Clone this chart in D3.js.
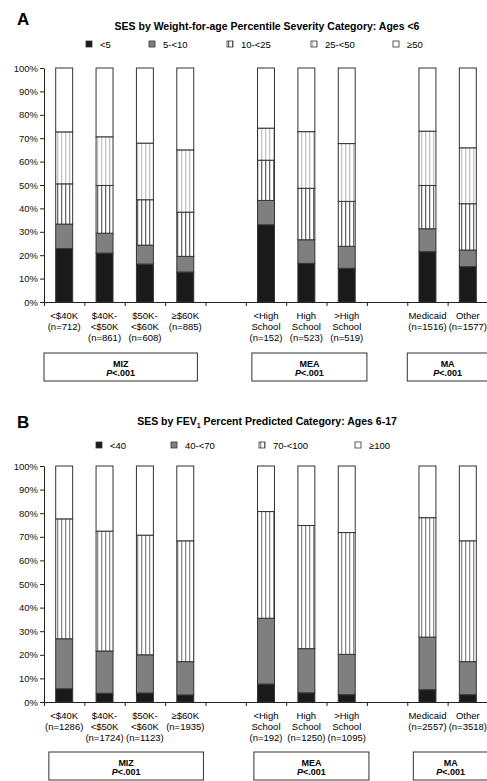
<!DOCTYPE html>
<html>
<head>
<meta charset="utf-8">
<script src="https://cdn.jsdelivr.net/npm/d3@7"></script>
<style>
  body { margin: 0; background: #fff; }
  svg { font-family: Arial, "Liberation Sans", Helvetica, sans-serif; }
  .axis path, .axis line { stroke: #222; }
  .axis text { font-size: 9.5px; fill: #111; }
</style>
</head>
<body>
<div id="chart"></div>
<script>
// DATA

// slots on the x axis, "" = empty gap between groups
var slots = ["<$40K", "$40K-<$50K", "$50K-<$60K", ">=$60K", "", "<HS", "HS", ">HS", "", "Medicaid", "Other"];
var barSlots = [0, 1, 2, 3, 5, 6, 7, 9, 10];

var labelsA = [["<$40K", "(n=712)"], ["$40K-", "<$50K", "(n=861)"], ["$50K-", "<$60K", "(n=608)"], ["≥$60K", "(n=885)"],
    ["<High", "School", "(n=152)"], ["High", "School", "(n=523)"], [">High", "School", "(n=519)"],
    ["Medicaid", "(n=1516)"], ["Other", "(n=1577)"]];
var labelsB = [["<$40K", "(n=1286)"], ["$40K-", "<$50K", "(n=1724)"], ["$50K-", "<$60K", "(n=1123)"], ["≥$60K", "(n=1935)"],
    ["<High", "School", "(n=192)"], ["High", "School", "(n=1250)"], [">High", "School", "(n=1095)"],
    ["Medicaid", "(n=2557)"], ["Other", "(n=3518)"]];

var keysA = ["<5", "5-<10", "10-<25", "25-<50", "≥50"];
var lt5 =     [22.8, 20.9, 16.2, 12.8, 33.0, 16.5, 14.4, 21.5, 15.1];
var p5to10 =  [10.5, 8.5, 8.1, 6.7, 10.4, 10.1, 9.4, 9.8, 7.1];
var p10to25 = [17.2, 20.4, 19.4, 18.9, 17.2, 22.0, 19.2, 18.5, 19.8];
var p25to50 = [22.2, 20.8, 24.2, 26.6, 13.7, 24.2, 24.7, 23.2, 23.9];
var ge50 =    [27.3, 29.4, 32.1, 35.0, 25.7, 27.2, 32.3, 27.0, 34.1];

var keysB = ["<40", "40-<70", "70-<100", "≥100"];
var lt40 =     [5.6, 3.7, 3.8, 3.0, 7.6, 3.9, 3.1, 5.2, 3.1];
var f40to70 =  [21.2, 17.9, 16.2, 14.1, 27.9, 18.7, 17.1, 22.3, 14.0];
var f70to100 = [50.8, 50.8, 50.7, 51.2, 45.2, 52.2, 51.6, 50.6, 51.2];
var ge100 =    [22.4, 27.6, 29.3, 31.7, 19.3, 25.2, 28.2, 21.9, 31.7];

var groups = ["MIZ", "MEA", "MA"];
var yTicks = [0, 10, 20, 30, 40, 50, 60, 70, 80, 90, 100];

// LAYOUT

var width = 487, height = 781;
var svg = d3.select("#chart").append("svg")
    .attr("width", width)
    .attr("height", height);

var defs = svg.append("defs");
function stripes(id, color) {
    var p = defs.append("pattern")
        .attr("id", id)
        .attr("patternUnits", "userSpaceOnUse")
        .attr("width", 4).attr("height", 4);
    p.append("rect").attr("width", 4).attr("height", 4).attr("fill", "#fff");
    p.append("rect").attr("x", 1).attr("width", 1.3).attr("height", 4).attr("fill", color);
}
stripes("hatchDark", "#6a6a6a");
stripes("hatchLight", "#c4c4c4");
stripes("hatchMid", "#8c8c8c");

var fillsA = ["#1a1a1a", "#7f7f7f", "url(#hatchDark)", "url(#hatchLight)", "#fff"];
var fillsB = ["#1a1a1a", "#7f7f7f", "url(#hatchMid)", "#fff"];

function drawPanel(cfg) {
    var g = svg.append("g");

    g.append("text")
        .attr("x", 17).attr("y", cfg.letterY)
        .style("font-size", "17px").style("font-weight", "bold")
        .text(cfg.letter);

    var title = g.append("text")
        .attr("x", 267).attr("y", cfg.titleY)
        .attr("text-anchor", "middle")
        .style("font-size", "10.5px").style("font-weight", "bold");
    cfg.title.forEach(function (t) {
        var ts = title.append("tspan").text(t.text);
        if (t.sub) ts.style("font-size", "7px").attr("dy", 2.5);
        else if (t.after) ts.attr("dy", -2.5);
    });

    // legend
    var leg = g.selectAll("g.leg")
        .data(cfg.keys)
        .join("g")
        .attr("class", "leg")
        .attr("transform", (d, i) => "translate(" + cfg.legendX[i] + "," + cfg.legendY + ")");
    leg.append("rect")
        .attr("x", 0).attr("y", -6.5)
        .attr("width", 6).attr("height", 6)
        .attr("fill", (d, i) => cfg.fills[i])
        .attr("stroke", "#333").attr("stroke-width", 0.8);
    leg.append("text")
        .attr("x", 14).attr("y", 0)
        .style("font-size", "9.5px")
        .text(d => d);

    var x_slot = d3.scaleLinear().domain([0, slots.length]).range([44, 488]);
    var x_band = d3.scaleBand()
        .domain(d3.range(slots.length))
        .range([44, 488])
        .paddingInner(0.58)
        .paddingOuter(0.29);
    var y_scale = d3.scaleLinear().domain([0, 100]).range([cfg.y0, cfg.y100]);

    var rows = barSlots.map((s, i) => {
        var r = { slot: s };
        cfg.keys.forEach((k, j) => r[k] = cfg.series[j][i]);
        return r;
    });
    var stacked = d3.stack().keys(cfg.keys)(rows);

    var layers = g.selectAll("g.layer")
        .data(stacked)
        .join("g")
        .attr("class", "layer")
        .attr("fill", (d, i) => cfg.fills[i]);
    layers.selectAll("rect")
        .data(d => d)
        .join("rect")
        .attr("x", d => x_band(d.data.slot))
        .attr("y", d => y_scale(d[1]))
        .attr("width", x_band.bandwidth())
        .attr("height", d => y_scale(d[0]) - y_scale(d[1]))
        .attr("stroke", "#333")
        .attr("stroke-width", 1);

    // axes
    var y_axis = d3.axisLeft(y_scale)
        .tickValues(yTicks)
        .tickFormat(d => d + "%")
        .tickSize(4)
        .tickSizeOuter(0)
        .tickPadding(2);
    g.append("g")
        .attr("class", "y axis")
        .attr("transform", "translate(44,0)")
        .call(y_axis);

    var x_axis = d3.axisBottom(x_slot)
        .tickValues(d3.range(slots.length + 1))
        .tickFormat("")
        .tickSize(4)
        .tickSizeOuter(0);
    g.append("g")
        .attr("class", "x axis")
        .attr("transform", "translate(0," + cfg.y0 + ")")
        .call(x_axis);

    // category labels
    var lab = g.selectAll("text.cat")
        .data(cfg.labels)
        .join("text")
        .attr("class", "cat")
        .attr("text-anchor", "middle")
        .style("font-size", "9.5px")
        .attr("transform", (d, i) => "translate(" + (x_band(barSlots[i]) + x_band.bandwidth() / 2) + "," + cfg.labelY + ")");
    lab.selectAll("tspan")
        .data(d => d)
        .join("tspan")
        .attr("x", 0)
        .attr("y", (d, i) => i * 11.3)
        .text(d => d);

    // group boxes
    var box = g.selectAll("g.grp")
        .data(groups)
        .join("g")
        .attr("class", "grp");
    box.append("rect")
        .attr("x", (d, i) => x_slot(cfg.boxes[i][0]))
        .attr("y", cfg.boxY)
        .attr("width", (d, i) => x_slot(cfg.boxes[i][1]) - x_slot(cfg.boxes[i][0]))
        .attr("height", 28)
        .attr("fill", "#fff")
        .attr("stroke", "#333");
    box.append("text")
        .attr("x", (d, i) => (x_slot(cfg.boxes[i][0]) + x_slot(Math.min(cfg.boxes[i][1], 11))) / 2)
        .attr("y", cfg.boxY + 13.5)
        .attr("text-anchor", "middle")
        .style("font-size", "9px").style("font-weight", "bold")
        .text(d => d);
    var pt = box.append("text")
        .attr("x", (d, i) => (x_slot(cfg.boxes[i][0]) + x_slot(Math.min(cfg.boxes[i][1], 11))) / 2)
        .attr("y", cfg.boxY + 23)
        .attr("text-anchor", "middle")
        .style("font-size", "9px").style("font-weight", "bold");
    pt.append("tspan").style("font-style", "italic").text("P");
    pt.append("tspan").text("<.001");
}

drawPanel({
    letter: "A", letterY: 25,
    title: [{ text: "SES by Weight-for-age Percentile Severity Category: Ages <6" }],
    titleY: 30,
    keys: keysA, fills: fillsA,
    series: [lt5, p5to10, p10to25, p25to50, ge50],
    legendX: [86, 149, 227, 311, 393], legendY: 47.5,
    y0: 302, y100: 68,
    labels: labelsA, labelY: 318.5,
    boxes: [[0, 3.8], [5.15, 8.0], [9.0, 11.5]], boxY: 353
});

drawPanel({
    letter: "B", letterY: 428,
    title: [{ text: "SES by FEV" }, { text: "1", sub: true }, { text: " Percent Predicted Category: Ages 6-17", after: true }],
    titleY: 425,
    keys: keysB, fills: fillsB,
    series: [lt40, f40to70, f70to100, ge100],
    legendX: [96, 171, 259, 355], legendY: 448.5,
    y0: 702, y100: 466,
    labels: labelsB, labelY: 718.5,
    boxes: [[0.12, 3.95], [5.2, 8.05], [9.15, 11.5]], boxY: 752
});
</script>
</body>
</html>
